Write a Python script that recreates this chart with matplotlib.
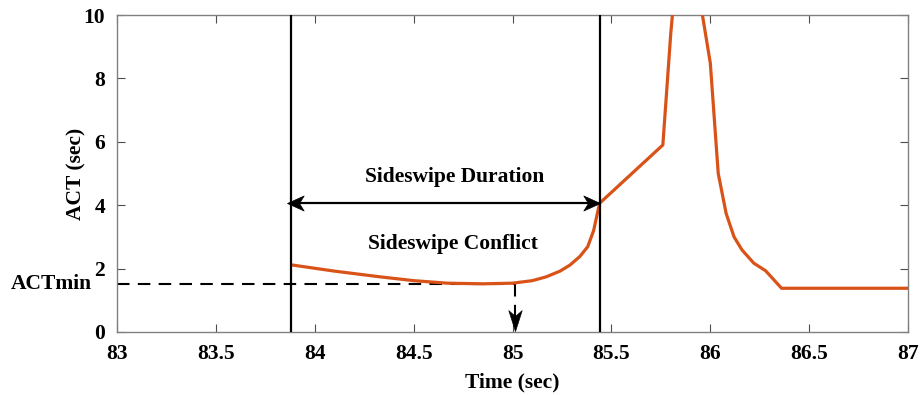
import matplotlib
matplotlib.use("Agg")
import matplotlib.pyplot as plt
from matplotlib.path import Path
from matplotlib.markers import MarkerStyle
from matplotlib.transforms import Affine2D

plt.rcParams['font.family'] = ['Liberation Serif', 'DejaVu Serif']
plt.rcParams['font.weight'] = 'bold'

# ACT time series (sec)
time_s = [83.89, 84.10, 84.33, 84.50, 84.67, 84.85, 85.00, 85.10, 85.17, 85.24,
          85.29, 85.34, 85.38, 85.41, 85.44, 85.76, 85.80, 85.83, 85.88, 85.93,
          85.96, 86.00, 86.04, 86.08, 86.12, 86.16, 86.22, 86.28, 86.36, 87.00]
act_s = [2.11, 1.92, 1.74, 1.62, 1.54, 1.52, 1.54, 1.62, 1.74, 1.92,
         2.11, 2.38, 2.69, 3.20, 4.06, 5.90, 9.42, 11.5, 12.6, 11.5,
         10.0, 8.48, 5.00, 3.74, 3.00, 2.59, 2.17, 1.93, 1.38, 1.38]

conflict_start = 83.88
conflict_end = 85.44
act_min = 1.51
act_min_time = 85.01
duration_level = 4.06

xticks = [83, 83.5, 84, 84.5, 85, 85.5, 86, 86.5, 87]
yticks = [0, 2, 4, 6, 8, 10]

FS = 15.5


def head(angle, half_width):
    # notched arrowhead, tip at the origin, pointing along +x before rotation
    path = Path([(0, 0), (-1, half_width), (-0.72, 0), (-1, -half_width), (0, 0)],
                [Path.MOVETO, Path.LINETO, Path.LINETO, Path.LINETO,
                 Path.CLOSEPOLY])
    return MarkerStyle(path, transform=Affine2D().rotate_deg(angle))


fig = plt.figure(figsize=(9.21, 3.95), dpi=100)
ax = fig.add_axes([0.127, 0.1595, 0.859, 0.8025])

ax.plot(time_s, act_s, color='#D95319', lw=2.3, zorder=3)

for xv in (conflict_start, conflict_end):
    ax.plot([xv, xv], [0, 10], color='black', lw=1.6, zorder=4)

# ACTmin guide
ax.plot([83, act_min_time], [act_min, act_min], color='black', lw=1.5,
        dashes=(6, 4), zorder=2)
ax.plot([act_min_time, act_min_time], [act_min, 0.35], color='black', lw=1.5,
        dashes=(6, 4), zorder=2)
ax.plot([act_min_time], [0.03], marker=head(-90, 0.32), ms=30, mfc='black',
        mec='black', mew=0.5, ls='none', zorder=5, clip_on=False)

# duration arrow
left_tip = conflict_start - 0.02
ax.plot([left_tip + 0.03, conflict_end - 0.03], [duration_level] * 2,
        color='black', lw=1.6, zorder=5)
ax.plot([left_tip], [duration_level], marker=head(180, 0.45), ms=24,
        mfc='black', mec='black', mew=0.5, ls='none', zorder=5)
ax.plot([conflict_end], [duration_level], marker=head(0, 0.45), ms=24,
        mfc='black', mec='black', mew=0.5, ls='none', zorder=5)

ax.text(84.71, 4.89, 'Sideswipe Duration', ha='center', va='center',
        fontsize=FS, fontweight='bold')
ax.text(84.70, 2.78, 'Sideswipe Conflict', ha='center', va='center',
        fontsize=FS, fontweight='bold')
ax.text(82.875, act_min, 'ACTmin', ha='right', va='center', fontsize=FS,
        fontweight='bold', clip_on=False)

ax.set_xlim(83, 87)
ax.set_ylim(0, 10)
ax.set_xticks(xticks)
ax.set_xticklabels([f'{t:g}' for t in xticks])
ax.set_yticks(yticks)
ax.tick_params(direction='in', top=True, right=True, length=6, width=0.8,
               color='0.3', labelsize=FS)
ax.tick_params(axis='x', pad=9)
ax.tick_params(axis='y', pad=8.5)
for lab in ax.get_xticklabels() + ax.get_yticklabels():
    lab.set_fontweight('bold')
for sp in ax.spines.values():
    sp.set_color('0.5')
    sp.set_linewidth(1.0)

ax.set_xlabel('Time (sec)', fontsize=FS, fontweight='bold', labelpad=6)
ax.set_ylabel('ACT (sec)', fontsize=FS, fontweight='bold', labelpad=-2)

fig.savefig('out.png', dpi=100)
